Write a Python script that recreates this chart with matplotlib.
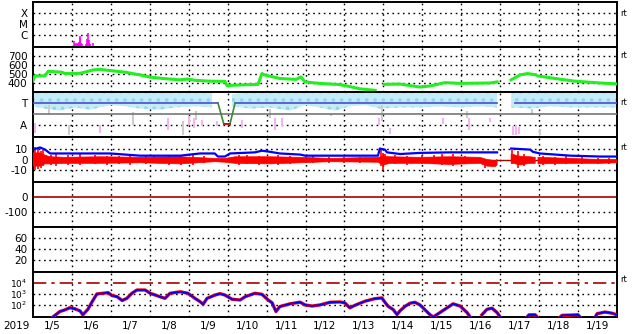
import numpy as np
import matplotlib
matplotlib.use('Agg')
import matplotlib.pyplot as plt

# time axis: days since 2019-01-05 00:00
day_labels = ['1/5', '1/6', '1/7', '1/8', '1/9', '1/10', '1/11', '1/12',
              '1/13', '1/14', '1/15', '1/16', '1/17', '1/18', '1/19']

# x-ray flux spikes (W/m2)
xray_t = [1.06, 1.09, 1.11, 1.14, 1.16, 1.19, 1.21, 1.22, 1.24, 1.26,
          1.36, 1.39, 1.41, 1.44, 1.46, 1.54]
xray_v = [10**-6.55, 10**-6.8, 10**-6.75, 10**-6.85, 10**-6.7, 10**-6.6, 10**-6.3, 10**-6.1,
          10**-6.7, 10**-6.8, 10**-6.8, 10**-6.4, 10**-5.8, 10**-6.5, 10**-6.8, 10**-6.7]

# solar wind speed (km/s)
speed_t = [0.00, 0.05, 0.13, 0.31, 0.39, 0.74, 0.82, 1.21, 1.34, 1.54, 1.72, 1.98, 2.36,
           2.75, 3.01, 3.39, 3.78, 3.98, 4.16, 4.55, 4.93, 4.98, 5.32, 5.78, 5.88, 5.96,
           6.34, 6.76, 6.88, 6.99, 7.37, 7.89, 8.14, 8.40, 8.79, 8.85, 9.02, 9.43, 9.94,
           10.20, 10.58, 10.97, 11.74, 11.92, 12.10, 12.28, 12.51, 12.70, 12.90, 12.93,
           12.97, 13.54, 13.92, 14.57, 15.0]
speed_v = [425, 480, 478, 480, 530, 520, 505, 508, 522, 545, 552, 538, 520,
           490, 465, 448, 435, 444, 430, 420, 418, 372, 378, 385, 505, 488,
           450, 440, 468, 412, 395, 382, 360, 335, 318, np.nan, 385, 388, 355,
           367, 404, 396, 400, 412, np.nan, 435, 490, 505, 492, np.nan,
           478, 442, 420, 400, 390]

# IMF direction (T = toward, A = away): spread of the light blue points
phi_t = [0.00, 0.31, 0.69, 1.08, 1.46, 1.98, 2.36, 2.75, 3.26, 3.65, 4.16, 4.60, 4.62,
         5.11, 5.58, 6.09, 6.60, 6.99, 7.37, 7.76, 8.14, 8.53, 8.91, 9.43, 9.94, 10.45,
         10.97, 11.48, 11.92, 12.10, 12.28, 12.77, 13.28, 13.80, 14.31, 15.0]
phi_top = [1.9, 2.0, 2.0, 2.0, 1.9, 1.9, 1.9, 2.0, 2.0, 1.9, 1.9, 1.9, np.nan,
           1.8, 2.0, 2.0, 2.0, 1.9, 1.9, 2.0, 1.9, 1.9, 2.0, 2.0, 1.9, 2.0,
           2.0, 1.9, 1.9, np.nan, 2.0, 2.0, 1.9, 2.0, 2.0, 1.9]
phi_bot = [0.7, 0.5, 0.3, 0.6, 0.4, 0.8, 0.7, 0.5, 0.4, 0.6, 0.7, 0.6, np.nan,
           0.7, 0.5, 0.6, 0.3, 0.8, 0.6, 0.3, 0.7, 0.8, 0.5, 0.6, 0.6, 0.7,
           0.6, 0.7, 0.6, np.nan, 0.6, 0.5, 0.7, 0.6, 0.6, 0.6]
pink_t = [0.05, 1.72, 3.47, 4.01, 4.14, 4.34, 4.73, 5.37, 6.22, 6.40, 8.89, 9.17,
          10.53, 11.20, 11.74, 12.33, 12.41, 12.48]
pink_hi = [-0.8, -1.0, -0.4, -0.2, -0.4, -0.55, -0.6, -0.55, -0.4, -0.4, -0.4, -1.3,
           -0.4, -0.4, -0.4, -1.1, -1.0, -1.2]
pink_lo = [-1.7, -1.7, -1.45, -1.0, -1.3, -1.1, -1.1, -1.3, -1.45, -1.1, -1.0, -1.8,
           -0.9, -1.45, -0.75, -1.9, -1.9, -1.8]
grey_t = [0.41, 0.92, 2.57, 3.85, 4.18, 6.09, 7.66, 8.96, 11.15, 12.82, 13.02]
grey_hi = [0.8, -1.0, 0.2, -0.6, 0.3, 0.5, 0.1, 0.8, 0.3, 0.5, -1.4]
grey_lo = [-0.1, -1.9, -1.0, -1.9, -0.5, -0.4, -0.2, -0.6, -0.4, -0.1, -1.9]
# sector boundary line
sector_t = [0.00, 4.75, 4.90, 5.06, 5.19, 11.92]
sector_v = [1.0, 1.0, -0.9, -0.9, 1.0, 1.0]
sector_t2 = [12.38, 15.0]
sector_v2 = [1.0, 1.0]

# IMF Bt (blue) and Bz spread (red), nT
bt_t = [0.00, 0.18, 0.31, 0.44, 1.98, 2.75, 3.78, 4.03, 4.29, 4.67, 4.75, 4.93, 5.06,
        5.70, 5.88, 6.09, 6.34, 6.86, 6.99, 8.86, 8.91, 9.04, 9.09, 9.43, 9.94, 10.71,
        11.92, 11.95, 12.28, 12.77, 12.84, 13.02, 13.80, 14.57, 15.0]
bt_v = [9, 11, 9, 5.5, 5.5, 3.5, 3.5, 4.5, 5.5, 5.5, 2.7, 2.7, 5.5,
        6.5, 8, 7, 5.5, 4.5, 3.5, 3.5, 10, 9, 6.5, 5, 6, 6.5,
        6.5, np.nan, 10, 9, 7, 5.5, 3.5, 2.7, 2.7]
bz_t = [0.00, 0.18, 0.31, 0.44, 0.82, 1.72, 2.75, 3.78, 4.67, 4.93, 5.19, 6.09, 6.86,
        7.63, 8.86, 8.99, 9.17, 9.94, 10.71, 11.48, 11.66, 11.87, 11.92, 11.95,
        12.28, 12.51, 12.77, 12.90, 12.93, 12.97, 13.80, 14.57, 15.0]
bz_hi = [6, 6, 4, 2.5, 2, 2.5, 2, 2.5, 1, 1, 2.5, 2.5, 2,
         1, 2, 3, 2.5, 2, 2.5, 2, 0, -1, 0, np.nan,
         5, 3, 2.5, 2, np.nan, 2, 1, 0, 0]
bz_lo = [-6, -6, -4, -4, -3.5, -3.5, -3, -4, -2, -2.5, -3.5, -4, -3,
         -2, -2.5, -5, -3.5, -3.5, -4.5, -3.5, -6, -6.5, -5, np.nan,
         -3, -5, -3.5, -3.5, np.nan, -4, -3.5, -3.5, -3]
# individual Bz excursions
bzs_t = [0.05, 0.12, 0.2, 0.26, 0.45, 0.6, 0.9, 1.2, 1.6, 1.9, 2.2, 2.5, 2.9, 3.1,
         3.5, 3.8, 4.1, 4.4, 5.3, 5.5, 5.8, 6.3, 6.6, 7.0, 7.2, 7.6, 8.0, 8.4,
         8.95, 9.0, 9.05, 9.3, 9.6, 10.0, 10.3, 10.5, 10.8, 11.1, 11.6,
         12.3, 12.45, 12.6, 13.1, 13.4, 13.7, 14.1, 14.5, 14.8]
bzs_hi = [11, 10, 8, 9, 4, 5, 4, 5, 4, 3, 3, 4, 3, 3,
          4, 4, 4, 3, 4, 4, 3, 4, 3, 3, 3, 2, 2, 2,
          9, 6, 5, 4, 3, 4, 4, 5, 5, 3, 0,
          9, 8, 5, 3, 2, 3, 2, 1, 1]
bzs_lo = [-10, -9, -8, -6, -5, -6, -5, -5, -4, -5, -4, -5, -4, -3,
          -5, -5, -5, -3, -5, -4, -5, -5, -4, -3, -3, -3, -3, -3,
          -6, -10, -4, -4, -5, -4, -4, -5, -6, -4, -8,
          -4, -8, -6, -5, -5, -4, -4, -4, -4]

# electron flux (log10), nan where below the plot
elec_t = [0.51, 0.69, 0.82, 0.95, 1.08, 1.21, 1.28, 1.41, 1.52, 1.64, 1.80, 1.93, 2.03,
          2.16, 2.29, 2.41, 2.54, 2.67, 2.88, 3.01, 3.26, 3.39, 3.52, 3.78, 3.98, 4.16,
          4.29, 4.37, 4.47, 4.68, 4.80, 4.93, 5.11, 5.32, 5.45, 5.70, 5.88, 6.04, 6.14,
          6.24, 6.34, 6.60, 6.86, 6.99, 7.17, 7.37, 7.63, 7.89, 8.01, 8.14, 8.27, 8.53,
          8.78, 8.96, 9.04, 9.12, 9.25, 9.35, 9.43, 9.56, 9.68, 9.81, 9.94, 10.07, 10.20,
          10.28, 10.45, 10.79, 10.97, 11.15, 11.23, 11.40, 11.53, 11.66, 11.79, 11.92,
          12.00, 12.30, 12.69, 12.74, 12.90, 12.95, 13.30, 13.54, 13.59, 14.0, 14.05,
          14.30, 14.44, 14.49, 14.69, 14.87, 15.0]
elec_log = [0.9, 1.4, 1.55, 1.75, 1.64, 1.45, 1.1, 1.6, 2.3, 3.0, 3.06, 3.12, 2.85,
            2.75, 2.4, 2.6, 3.06, 3.36, 3.36, 3.06, 2.75, 2.6, 3.06, 3.2, 3.06, 2.6,
            2.3, 2.06, 2.6, 2.9, 3.03, 2.9, 2.52, 2.45, 2.75, 3.06, 2.97, 2.45, 2.2,
            1.4, 1.85, 2.1, 2.25, 2.0, 1.9, 2.0, 2.24, 2.27, 2.18, 1.73, 1.97, 2.34,
            2.57, 2.64, 2.24, 1.88, 1.58, 1.12, 1.48, 1.88, 2.15, 2.24, 2.0, 1.55, 1.1,
            0.9, 1.3, 2.1, 1.9, 1.3, 0.9, np.nan, 1.1, 1.6, 1.7, 1.3,
            0.9, np.nan, 0.9, 1.1, 1.1, 0.9, np.nan, 0.9, 1.05, 1.1, 0.9,
            np.nan, 0.9, 1.2, 1.35, 1.25, 1.1]
elec_alert = 1e4

W, H = 633, 334
fig = plt.figure(figsize=(W / 100, H / 100), dpi=100)
plt.rcParams['font.family'] = 'DejaVu Sans'
plt.rcParams['hatch.linewidth'] = 1.5
fs = 7.5
dot = (0, (1.2, 2.6))

tops = [2, 47, 92, 137, 182, 227, 272]
axes = []
for top in tops:
    ax = fig.add_axes([33 / W, 1 - (top + 45) / H, 584 / W, 45 / H])
    ax.set_xlim(0, 15)
    for s in ax.spines.values():
        s.set_linewidth(1.4)
    ax.tick_params(length=0, labelsize=fs, pad=4)
    ax.set_xticks([])
    # day boundaries
    ax.vlines(np.arange(1, 15), 0, 1, transform=ax.get_xaxis_transform(),
              colors='k', lw=1, linestyles=dot, zorder=1)
    axes.append(ax)

def hgrid(ax, levels):
    for v in levels:
        ax.axhline(v, color='k', lw=1, ls=dot, zorder=1)

# 1: x-ray
ax = axes[0]
ax.set_yscale('log')
ax.set_ylim(10**-7.1, 1e-3)
ax.set_yticks([1e-6, 1e-5, 1e-4], ['C', 'M', 'X'])
ax.minorticks_off()
hgrid(ax, [1e-6, 1e-5, 1e-4])
ax.vlines(xray_t, 10**-7.1, xray_v, colors='#ff00ff', lw=1.2, zorder=3)

# 2: solar wind speed
ax = axes[1]
ax.set_ylim(300, 800)
ax.set_yticks([400, 500, 600, 700])
hgrid(ax, [400, 500, 600, 700])
ax.plot(speed_t, speed_v, color='#22ee22', lw=2.2, zorder=3)

# 3: IMF sector
ax = axes[2]
ax.set_ylim(-2.09, 2.0)
ax.set_yticks([1, -1], ['T', 'A'])
hgrid(ax, [-1])
ax.fill_between(phi_t, phi_bot, phi_top, facecolor='#c4ecf8', edgecolor='#94d6ee',
                hatch='..', lw=0, zorder=2)
ax.vlines(grey_t, grey_lo, grey_hi, colors='#cccccc', lw=1.5, zorder=2)
ax.vlines(pink_t, pink_lo, pink_hi, colors='#f4b4f0', lw=1.5, zorder=2)
ax.axhline(0, color='#777777', lw=1.2, zorder=3)
ax.plot(sector_t[:2], sector_v[:2], color='#4a4ad0', lw=1.2, zorder=4)
ax.plot(sector_t[4:], sector_v[4:], color='#4a4ad0', lw=1.2, zorder=4)
ax.plot(sector_t[1:5], sector_v[1:5], color='#3a8a3a', lw=1.2, zorder=5)
ax.plot(sector_t[2:4], sector_v[2:4], color='#dd0000', lw=1.2, zorder=6)
ax.plot(sector_t2, sector_v2, color='#4a4ad0', lw=1.2, zorder=4)

# 4: IMF Bt / Bz
ax = axes[3]
ax.set_ylim(-20.5, 20.5)
ax.set_yticks([10, 0, -10], ['10', '0', '-10'])
hgrid(ax, [10, -10])
ax.axhline(0, color='#aa0000', lw=1, zorder=2)
ax.fill_between(bz_t, bz_lo, bz_hi, color='#ff0000', lw=0.5, zorder=3)
ax.vlines(bzs_t, bzs_lo, bzs_hi, colors='#ff0000', lw=1.2, zorder=3)
ax.plot(bt_t, bt_v, color='#0000ff', lw=1.6, zorder=4)

# 5: Dst
ax = axes[4]
ax.set_ylim(-200, 100)
ax.set_yticks([0, -100], ['0', '-100'])
hgrid(ax, [-100])
ax.axhline(0, color='#aa0000', lw=1.2, zorder=2)

# 6: AE/Kp
ax = axes[5]
ax.set_ylim(-1, 80)
ax.set_yticks([20, 40, 60])
hgrid(ax, [20, 40, 60])

# 7: electron flux
ax = axes[6]
ax.set_yscale('log')
ax.set_ylim(10**0.9, 1e5)
ax.set_yticks([1e2, 1e3, 1e4], ['$10^2$', '$10^3$', '$10^4$'])
ax.tick_params(axis='y', labelsize=6.5)
ax.minorticks_off()
hgrid(ax, [1e2, 1e3])
ax.axhline(elec_alert, color='#aa0000', lw=1.2, ls=(0, (8, 3, 2, 3)), zorder=2)
elec_v = [10**v for v in elec_log]
ax.plot(elec_t, elec_v, color='#ff0000', lw=2.4, zorder=3)
ax.plot(elec_t, elec_v, color='#0000ff', lw=1.3, zorder=4)
ax.set_xticks(np.arange(15) + 0.5, day_labels)
ax.tick_params(axis='x', length=0, pad=3, labelsize=fs)

fig.text(3 / W, 1 - 326 / H, '2019', fontsize=fs, va='center', ha='left')
# realtime markers on the right
for yy in [13, 56, 102, 147, 280]:
    fig.text(620 / W, 1 - yy / H, 'rt', fontsize=6, va='center', ha='left')

fig.savefig('out.png', dpi=100)
